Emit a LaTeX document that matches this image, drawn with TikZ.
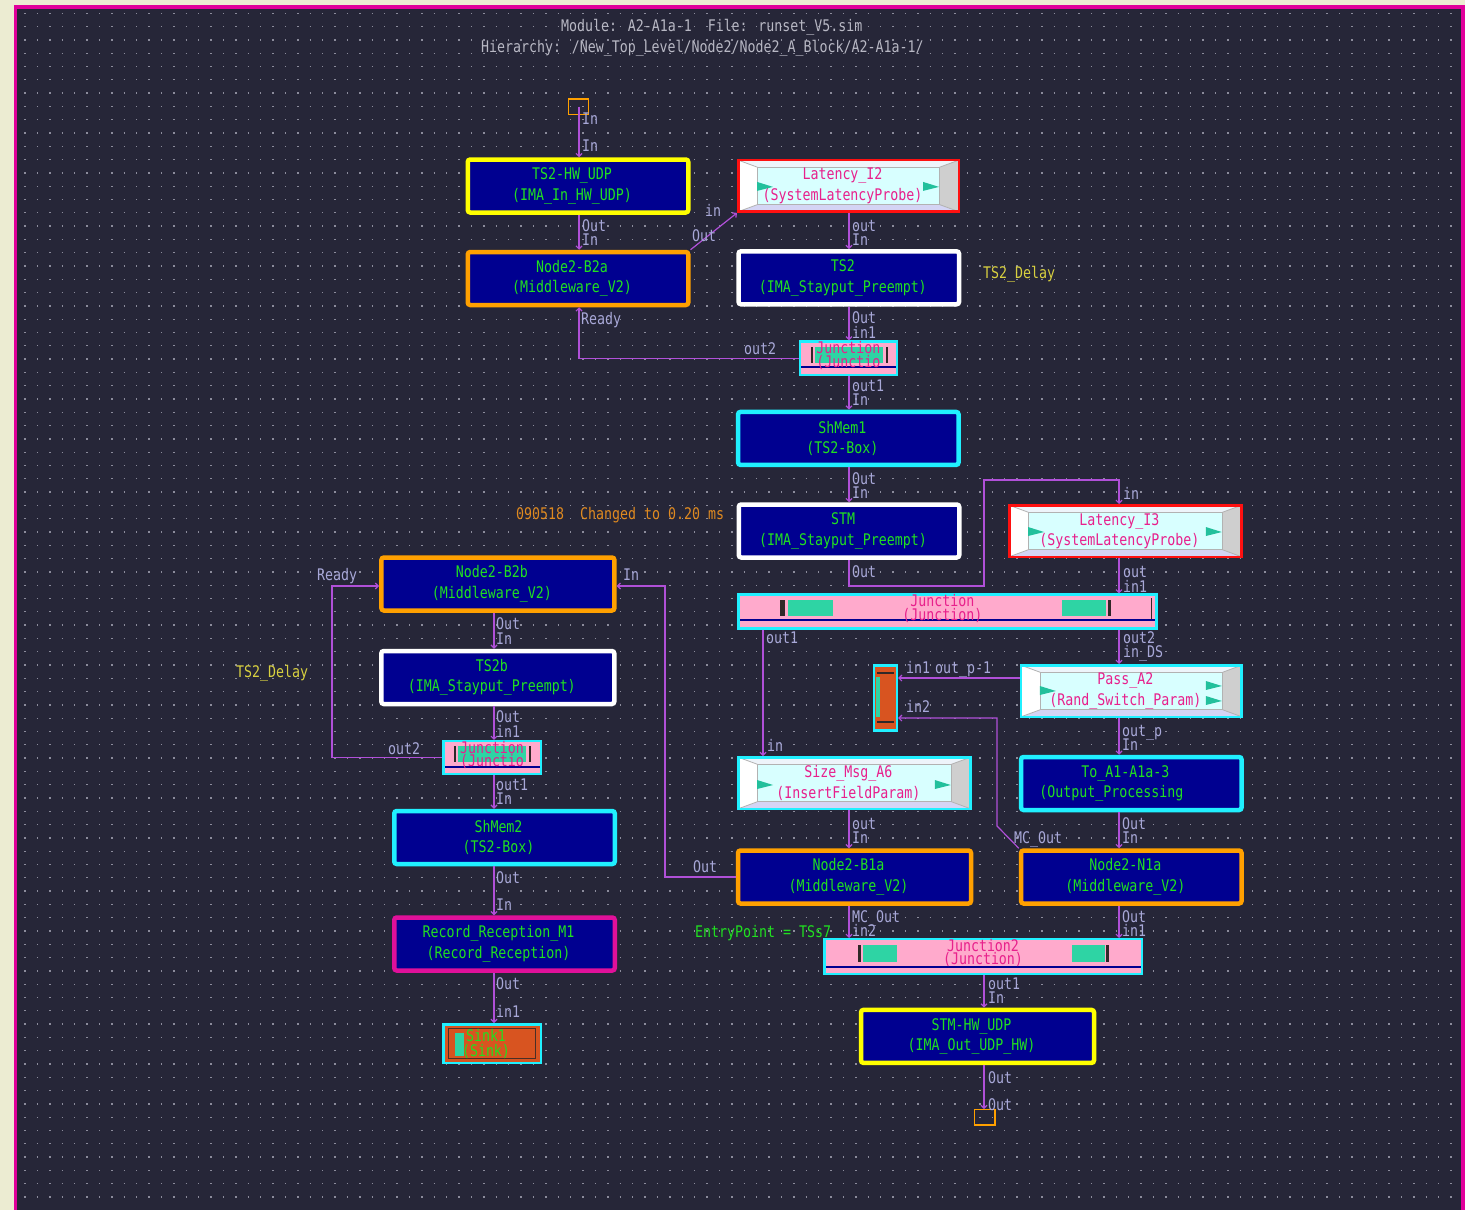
\documentclass[tikz,border=0pt]{standalone}
\usepackage{fontspec}
\newfontfamily\pixfont[FakeStretch=0.83]{DejaVu Sans Mono}
\usetikzlibrary{arrows.meta,calc}

\definecolor{canvas}{HTML}{262638}
\definecolor{paper}{HTML}{ECECD2}
\definecolor{frame}{HTML}{E0009A}
\definecolor{navy}{HTML}{000090}
\definecolor{lbl}{HTML}{20E020}
\definecolor{wire}{HTML}{B050D8}
\definecolor{port}{HTML}{A8A8D8}
\definecolor{hdr}{HTML}{B8B8C4}
\definecolor{bYellow}{HTML}{FFFF00}
\definecolor{bOrange}{HTML}{FFA000}
\definecolor{bCyan}{HTML}{20F0FF}
\definecolor{bRed}{HTML}{FF1010}
\definecolor{bMag}{HTML}{E0109A}
\definecolor{probeIn}{HTML}{D8FFFF}
\definecolor{probeTop}{HTML}{EEF4FA}
\definecolor{probeTxt}{HTML}{E8208C}
\definecolor{probeGrey}{HTML}{CFCFCF}
\definecolor{probeLav}{HTML}{D4D4F4}
\definecolor{flagc}{HTML}{22C09C}
\definecolor{jpink}{HTML}{FFAACC}
\definecolor{jteal}{HTML}{2ED4A4}
\definecolor{jbar}{HTML}{302828}
\definecolor{sinkc}{HTML}{D85420}
\definecolor{delayc}{HTML}{D8D040}
\definecolor{notec}{HTML}{E08A20}
\definecolor{dotc}{HTML}{8C8C9C}

% helpers for the inner decoration of shapes
\newcommand\ppbb{path picture bounding box}
\newcommand\ppr[5]{\fill[#5] ($(\ppbb.north west)+(#1,#2)$) rectangle ($(\ppbb.north west)+(#3,#4)$);}
\newcommand\twoln[2]{#1\hspace*{12pt}\\#2\hspace*{12pt}}
\newcommand\flagat[1]{\fill[flagc] #1 ++(0,-4) -- ++(16,5) -- ++(-16,4) -- cycle;}

\tikzset{
  base/.style={font=\pixfont\fontsize{16}{20.5}\selectfont, inner sep=0pt},
  blk/.style={base, rectangle, rounded corners=2.5pt, line width=4.5pt, fill=navy,
    text=lbl, align=center, minimum width=220.5pt, minimum height=53pt},
  wide/.style={minimum width=233pt},
  probe/.style={base, rectangle, line width=2.5pt, fill=probeIn, text=probeTxt,
    align=center, minimum width=220.5pt, minimum height=51.5pt,
    path picture={
      \fill[probeTop] (\ppbb.north west) -- (\ppbb.north east) -- ($(\ppbb.north east)+(-19,7)$) -- ($(\ppbb.north west)+(19,7)$) -- cycle;
      \fill[probeLav] (\ppbb.south west) -- (\ppbb.south east) -- ($(\ppbb.south east)+(-19,-7)$) -- ($(\ppbb.south west)+(19,-7)$) -- cycle;
      \fill[white] (\ppbb.north west) -- ($(\ppbb.north west)+(19,7)$) -- ($(\ppbb.south west)+(19,-7)$) -- (\ppbb.south west) -- cycle;
      \fill[probeGrey] (\ppbb.north east) -- ($(\ppbb.north east)+(-19,7)$) -- ($(\ppbb.south east)+(-19,-7)$) -- (\ppbb.south east) -- cycle;
      \draw[gray!60, line width=0.8pt] ($(\ppbb.north west)+(19,7)$) rectangle ($(\ppbb.south east)+(-19,-7)$);
      \draw[gray!60, line width=0.8pt] (\ppbb.north west) -- ($(\ppbb.north west)+(19,7)$)
        (\ppbb.south west) -- ($(\ppbb.south west)+(19,-7)$)
        (\ppbb.north east) -- ($(\ppbb.north east)+(-19,7)$)
        (\ppbb.south east) -- ($(\ppbb.south east)+(-19,-7)$);
    }},
  junc/.style={base, rectangle, line width=2.5pt, draw=bCyan, fill=jpink, text=probeTxt,
    align=center, font=\pixfont\fontsize{16}{10.5}\selectfont, minimum height=26.5pt},
  redblk/.style={base, rectangle, line width=2.5pt, draw=bCyan, fill=sinkc},
  pl/.style={base, anchor=west, text=port, text height=11pt, text depth=0pt},
  note/.style={base, anchor=west, text height=11pt, text depth=0pt},
  portbox/.style={base, rectangle, draw=bOrange, line width=1.3pt},
  wire/.style={draw=wire, line width=1.2pt, -{Straight Barb[length=3pt,width=6pt]}},
  dotrow/.style={draw=dotc, line width=1.3pt, dash pattern=on 1.3pt off 11.1pt},
}

\begin{document}
\begin{tikzpicture}[x=1pt,y=-1pt]
\useasboundingbox (0,0) rectangle (1465,1210);

% window background, frame and dot grid
\fill[paper] (0,0) rectangle (1465,1210);
\fill[canvas] (16.5,8.5) rectangle (1465,1210);
\fill[frame] (14,5) rectangle (16.5,1210);
\fill[frame] (14,5) rectangle (1465,8.5);
\fill[frame] (1461,5) rectangle (1465,1210);
\foreach \k in {0,...,89}
  \draw[dotrow] (24.4,{13.3+13.3*\k}) -- (1456,{13.3+13.3*\k});

% header
\node[note, text=hdr] (hd1) at (561,26) {Module: A2-A1a-1\ \ File: runset\_V5.sim};
\node[note, text=hdr] (hd2) at (481,47) {Hierarchy: /New\_Top\_Level/Node2/Node2\_A\_Block/A2-A1a-1/};

% free notes
\node[note, text=delayc] (dl1) at (983,273) {TS2\_Delay};
\node[note, text=delayc] (dl2) at (236,672) {TS2\_Delay};
\node[note, text=notec] (cmt) at (516,514) {090518\ \ Changed to 0.20 ms};
\node[note, text=lbl] (ep) at (695,932) {EntryPoint = TSs7};

% module ports
\node[portbox, minimum width=20pt, minimum height=15.4pt] (inport) at (578.4,106.6) {};
\node[portbox, minimum width=20.4pt, minimum height=15.4pt] (outport) at (984.9,1117.4) {};

% main blocks
\node[blk, draw=bYellow] (ts2hw) at (578,186) {\twoln{TS2-HW\_UDP}{(IMA\_In\_HW\_UDP)}};
\node[blk, draw=bOrange] (b2a) at (578,278.5) {\twoln{Node2-B2a}{(Middleware\_V2)}};
\node[blk, draw=white] (ts2) at (848.8,277.8) {\twoln{TS2}{(IMA\_Stayput\_Preempt)}};
\node[blk, draw=bCyan] (shmem1) at (848.3,438.4) {\twoln{ShMem1}{(TS2-Box)}};
\node[blk, draw=white] (stm) at (849,531) {\twoln{STM}{(IMA\_Stayput\_Preempt)}};
\node[blk, wide, draw=bOrange] (b2b) at (497.9,584) {\twoln{Node2-B2b}{(Middleware\_V2)}};
\node[blk, wide, draw=white] (ts2b) at (497.8,677.5) {\twoln{TS2b}{(IMA\_Stayput\_Preempt)}};
\node[blk, draw=bCyan] (shmem2) at (504.5,837.5) {\twoln{ShMem2}{(TS2-Box)}};
\node[blk, draw=bMag] (record) at (504.5,944) {\twoln{Record\_Reception\_M1}{(Record\_Reception)}};
\node[blk, draw=bCyan] (toa1) at (1131.3,783.5) {To\_A1-A1a-3\hspace*{12pt}\\(Output\_Processing\hspace*{40pt}};
\node[blk, wide, draw=bOrange] (b1a) at (854.5,877) {\twoln{Node2-B1a}{(Middleware\_V2)}};
\node[blk, draw=bOrange] (n1a) at (1131.3,877) {\twoln{Node2-N1a}{(Middleware\_V2)}};
\node[blk, wide, draw=bYellow] (stmhw) at (977.5,1036.4) {\twoln{STM-HW\_UDP}{(IMA\_Out\_UDP\_HW)}};

% probe blocks
\node[probe, draw=bRed] (lat2) at (848.5,185.9) {\twoln{Latency\_I2}{(SystemLatencyProbe)}};
\node[probe, draw=bRed, minimum width=232.2pt] (lat3) at (1125.4,531) {\twoln{Latency\_I3}{(SystemLatencyProbe)}};
\node[probe, draw=bCyan] (pass) at (1131.4,691) {\twoln{Pass\_A2}{(Rand\_Switch\_Param)}};
\node[probe, draw=bCyan, minimum width=232.2pt] (sz) at (854.4,783) {\twoln{Size\_Msg\_A6}{(InsertFieldParam)}};

\flagat{($(lat2.west)+(20,0)$)}
\flagat{($(lat2.east)+(-37,0)$)}
\flagat{($(lat3.west)+(20,0)$)}
\flagat{($(lat3.east)+(-37,0)$)}
\flagat{($(pass.west)+(20,-1)$)}
\flagat{($(pass.east)+(-37,-6)$)}
\flagat{($(pass.east)+(-37,9)$)}
\flagat{($(sz.west)+(20,1)$)}
\flagat{($(sz.east)+(-37,1)$)}

% junctions
\node[junc, minimum width=96.8pt, path picture={
    \ppr{11}{5}{13}{21}{jbar} \ppr{15}{5}{83}{21}{jteal} \ppr{86}{5}{88}{21}{jbar}
    \ppr{0}{24.5}{97}{26.5}{navy}}]
  (j1) at (848.4,358.4) {Junction\\(Junctio\rule[-8pt]{0pt}{0pt}};
\node[junc, minimum width=97.5pt, path picture={
    \ppr{11}{5}{13}{21}{jbar} \ppr{15}{5}{83}{21}{jteal} \ppr{86}{5}{88}{21}{jbar}
    \ppr{0}{24.5}{98}{26.5}{navy}}]
  (jl) at (492,757.5) {Junction\\(Junctio\rule[-7pt]{0pt}{0pt}};
\node[junc, minimum width=417.7pt, path picture={
    \ppr{41.5}{5.5}{46.5}{21}{jbar} \ppr{49.5}{5.5}{94.5}{21}{jteal}
    \ppr{323.5}{5.5}{367.5}{21}{jteal} \ppr{369.5}{5.5}{372.5}{21}{jbar}
    \ppr{412}{3}{413.5}{24}{jbar}
    \ppr{0}{24.5}{418}{26.5}{navy}}]
  (jb) at (947.4,611.5) {Junction\hspace*{10pt}\\(Junction)\hspace*{10pt}\rule[-8pt]{0pt}{0pt}};
\node[junc, minimum width=317.5pt, minimum height=28.5pt, path picture={
    \ppr{33.75}{6}{36.75}{22.5}{jbar} \ppr{38.75}{6}{72.75}{22.5}{jteal}
    \ppr{247.75}{6}{280.75}{22.5}{jteal} \ppr{281.75}{6}{284.75}{22.5}{jbar}
    \ppr{0}{26.5}{318}{28.5}{navy}}]
  (j2) at (983,956.5) {Junction2\\(Junction)\rule[-9pt]{0pt}{0pt}};

% merge block and sink
\node[redblk, minimum width=22.8pt, minimum height=65.2pt, path picture={
    \ppr{3}{7}{20}{8.5}{jbar} \ppr{3}{56}{20}{57.5}{jbar}
    \ppr{2}{12}{6}{52}{jteal}}]
  (mix) at (885.4,697.9) {};
\node[redblk, minimum width=97.5pt, minimum height=38.5pt, text=lbl, align=center,
    font=\pixfont\fontsize{16}{15}\selectfont, path picture={
    \draw[jbar!85!sinkc, line width=1.2pt] ($(\ppbb.north west)+(5,4)$) rectangle ($(\ppbb.south east)+(-5,-4)$);
    \ppr{12}{8.5}{21}{32}{jteal}}]
  (sink) at (492,1043.5) {\twoln{Sink1}{(Sink)}};

% routing columns and bends
\coordinate (cA) at (579,0);
\coordinate (cB) at (849,0);
\coordinate (cC) at (1119,0);
\coordinate (cD) at (494,0);
\coordinate (cE) at (984,0);
\coordinate (cF) at (763,0);
\coordinate (r1) at (984,586);
\coordinate (r2) at (984,480);
\coordinate (r3) at (665,586);
\coordinate (r4) at (997,826);
\coordinate (r5) at (997,718);
\coordinate (r6) at (332,586);
\coordinate (p1) at (0,678);

% connectors
\draw[wire] (inport.center -| cA) -- (ts2hw.north -| cA);
\draw[wire] (ts2hw.south -| cA) -- (b2a.north -| cA);
\draw[wire] (b2a.north east) -- (lat2.south west);
\draw[wire] (lat2.south -| cB) -- (ts2.north -| cB);
\draw[wire] (ts2.south -| cB) -- (j1.north -| cB);
\draw[wire] (j1.west) -| (b2a.south -| cA);
\draw[wire] (j1.south -| cB) -- (shmem1.north -| cB);
\draw[wire] (shmem1.south -| cB) -- (stm.north -| cB);
\draw[wire] (stm.south -| cB) |- (r1) -- (r2) -| (lat3.north -| cC);
\draw[wire] (lat3.south -| cC) -- (jb.north -| cC);
\draw[wire] (jb.south -| cC) -- (pass.north -| cC);
\draw[wire] (jb.south -| cF) -- (sz.north -| cF);
\draw[wire] (pass.west |- p1) -- (mix.east |- p1);
\draw[wire] (n1a.north west) -- (r4) -- (r5) -- (mix.east |- r5);
\draw[wire] (pass.south -| cC) -- (toa1.north -| cC);
\draw[wire] (toa1.south -| cC) -- (n1a.north -| cC);
\draw[wire] (sz.south -| cB) -- (b1a.north -| cB);
\draw[wire] (b1a.west) -| (r3) -- (b2b.east |- r3);
\draw[wire] (b1a.south -| cB) -- (j2.north -| cB);
\draw[wire] (n1a.south -| cC) -- (j2.north -| cC);
\draw[wire] (j2.south -| cE) -- (stmhw.north -| cE);
\draw[wire] (stmhw.south -| cE) -- (outport.north -| cE);
\draw[wire] (b2b.south -| cD) -- (ts2b.north -| cD);
\draw[wire] (ts2b.south -| cD) -- (jl.north -| cD);
\draw[wire] (jl.west) -| (r6) -- (b2b.west |- r6);
\draw[wire] (jl.south -| cD) -- (shmem2.north -| cD);
\draw[wire] (shmem2.south -| cD) -- (record.north -| cD);
\draw[wire] (record.south -| cD) -- (sink.north -| cD);

% port names
\node[pl] (q01) at (582,119) {In};
\node[pl] (q02) at (582,146) {In};
\node[pl] (q03) at (582,226) {Out};
\node[pl] (q04) at (582,240) {In};
\node[pl] (q05) at (692,236) {Out};
\node[pl] (q06) at (705,211) {in};
\node[pl] (q07) at (852,226) {out};
\node[pl] (q08) at (852,240) {In};
\node[pl] (q09) at (581,319) {Ready};
\node[pl] (q10) at (852,318) {Out};
\node[pl] (q11) at (852,333) {in1};
\node[pl] (q12) at (744,349) {out2};
\node[pl] (q13) at (852,386) {out1};
\node[pl] (q14) at (852,400) {In};
\node[pl] (q15) at (852,479) {Out};
\node[pl] (q16) at (852,493) {In};
\node[pl] (q17) at (852,572) {Out};
\node[pl] (q18) at (1123,494) {in};
\node[pl] (q19) at (1123,572) {out};
\node[pl] (q20) at (1123,587) {in1};
\node[pl] (q21) at (1123,638) {out2};
\node[pl] (q22) at (1123,652) {in\_DS};
\node[pl] (q23) at (766,638) {out1};
\node[pl] (q24) at (767,746) {in};
\node[pl] (q25) at (906,668) {in1};
\node[pl] (q26) at (935,668) {out\_p-1};
\node[pl] (q27) at (906,707) {in2};
\node[pl] (q28) at (1122,731) {out\_p};
\node[pl] (q29) at (1122,745) {In};
\node[pl] (q30) at (852,824) {out};
\node[pl] (q31) at (852,838) {In};
\node[pl] (q32) at (1122,824) {Out};
\node[pl] (q33) at (1122,838) {In};
\node[pl] (q34) at (1014,838) {MC\_Out};
\node[pl] (q35) at (693,867) {Out};
\node[pl] (q36) at (623,575) {In};
\node[pl] (q37) at (852,917) {MC\_Out};
\node[pl] (q38) at (852,931) {in2};
\node[pl] (q39) at (1122,917) {Out};
\node[pl] (q40) at (1122,931) {in1};
\node[pl] (q41) at (988,984) {out1};
\node[pl] (q42) at (988,998) {In};
\node[pl] (q43) at (988,1078) {Out};
\node[pl] (q44) at (988,1105) {Out};
\node[pl] (q45) at (317,575) {Ready};
\node[pl] (q46) at (496,624) {Out};
\node[pl] (q47) at (496,639) {In};
\node[pl] (q48) at (496,717) {Out};
\node[pl] (q49) at (496,732) {in1};
\node[pl] (q50) at (388,749) {out2};
\node[pl] (q51) at (496,785) {out1};
\node[pl] (q52) at (496,799) {In};
\node[pl] (q53) at (496,878) {Out};
\node[pl] (q54) at (496,905) {In};
\node[pl] (q55) at (496,984) {Out};
\node[pl] (q56) at (496,1012) {in1};
\end{tikzpicture}
\end{document}
